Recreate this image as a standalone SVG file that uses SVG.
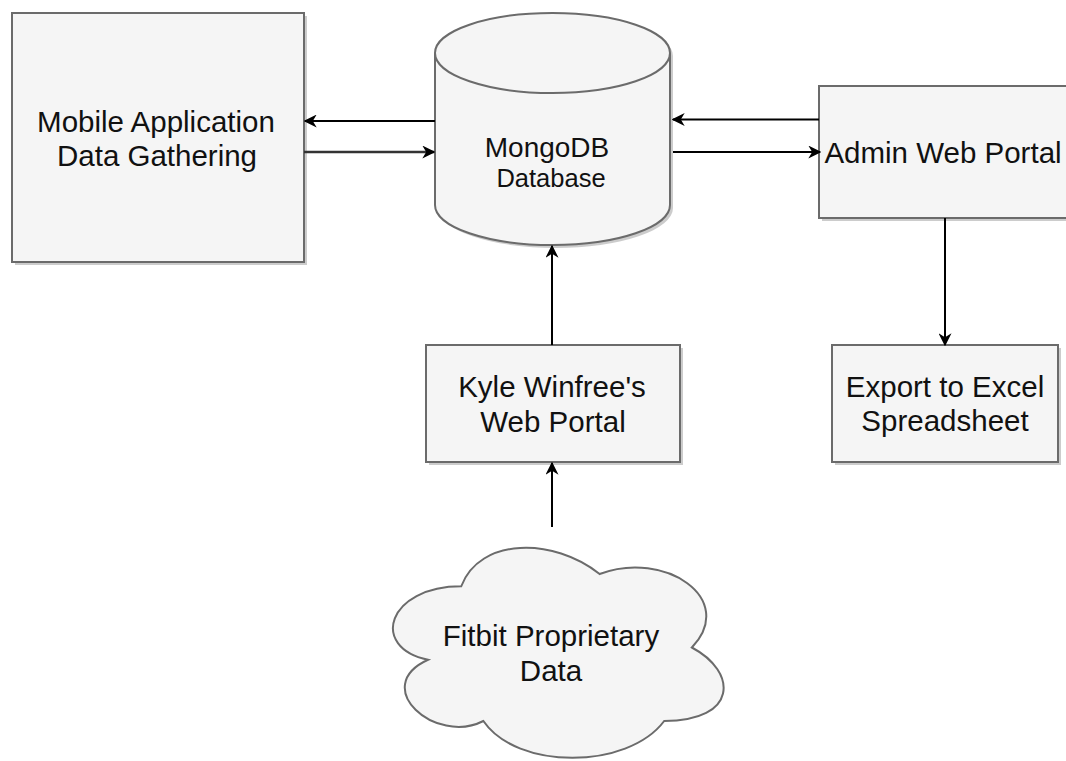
<svg xmlns="http://www.w3.org/2000/svg" width="1066" height="761" viewBox="0 0 1066 761">
<defs>
<style>
.box{fill:#f5f5f5;stroke:#6b6b6b;stroke-width:2}
.sh{fill:#9a9a9a;opacity:0.5}
.lbl{font-family:"Liberation Sans",Arial,Helvetica,sans-serif;font-size:29.5px;fill:#111;text-anchor:middle}
.edge{fill:none;stroke:#000;stroke-width:2}
</style>
<marker id="arrh" viewBox="0 0 10 10" refX="9" refY="5" markerWidth="13" markerHeight="13" markerUnits="userSpaceOnUse" orient="auto">
<path d="M0,0 L10,5 L0,10 L3,5 Z" fill="#000"/>
</marker>
</defs>
<rect width="1066" height="761" fill="#ffffff"/>

<g id="mobile">
<rect class="sh" x="15" y="16" width="292" height="249"/>
<rect class="box" x="12" y="13" width="292" height="249"/>
<text class="lbl" x="156" y="132">Mobile Application</text>
<text class="lbl" x="157" y="166">Data Gathering</text>
</g>

<g id="mongodb">
<path class="sh" d="M438,56 A117.5,40 0 0 1 673,56 L673,208 A117.5,40 0 0 1 438,208 Z"/>
<path class="box" d="M435,53 A117.5,40 0 0 1 670,53 L670,205 A117.5,40 0 0 1 435,205 Z"/>
<path class="box" style="fill:none" d="M435,53 A117.5,40 0 0 0 670,53"/>
<text class="lbl" x="547" y="157" style="font-size:28px">MongoDB</text>
<text class="lbl" x="551" y="187" style="font-size:25.5px">Database</text>
</g>

<g id="admin">
<rect class="sh" x="822" y="89" width="260" height="132"/>
<rect class="box" x="819" y="86" width="260" height="132"/>
<text class="lbl" x="943" y="163">Admin Web Portal</text>
</g>

<g id="excel">
<rect class="sh" x="835" y="348" width="226" height="117"/>
<rect class="box" x="832" y="345" width="226" height="117"/>
<text class="lbl" x="945" y="397">Export to Excel</text>
<text class="lbl" x="945" y="431">Spreadsheet</text>
</g>

<g id="kyle">
<rect class="sh" x="429" y="348" width="254" height="117"/>
<rect class="box" x="426" y="345" width="254" height="117"/>
<text class="lbl" x="552" y="397">Kyle Winfree's</text>
<text class="lbl" x="553" y="432">Web Portal</text>
</g>

<g id="fitbit">
<path class="box" d="M461.25,586.25 C387.45,586.25 369,647.5 428.04,659.75 C369,686.7 435.42,745.5 483.39,721 C516.6,770 627.3,770 664.2,721 C738,721 738,672 691.875,647.5 C738,598.5 664.2,549.5 599.625,574 C553.5,537.25 479.7,537.25 461.25,586.25 Z"/>
<text class="lbl" x="551" y="646">Fitbit Proprietary</text>
<text class="lbl" x="551" y="681">Data</text>
</g>

<g id="connectors">
<line class="edge" x1="435" y1="121" x2="305" y2="121" marker-end="url(#arrh)"/>
<line class="edge" x1="304" y1="152" x2="434" y2="152" marker-end="url(#arrh)" style="stroke:#333;stroke-width:2.5"/>
<line class="edge" x1="819" y1="119.5" x2="673" y2="119.5" marker-end="url(#arrh)"/>
<line class="edge" x1="673" y1="152" x2="820" y2="152" marker-end="url(#arrh)"/>
<line class="edge" x1="945" y1="218" x2="945" y2="345" marker-end="url(#arrh)"/>
<line class="edge" x1="552" y1="345" x2="552" y2="246" marker-end="url(#arrh)"/>
<line class="edge" x1="552" y1="527" x2="552" y2="463" marker-end="url(#arrh)"/>
</g>
</svg>
